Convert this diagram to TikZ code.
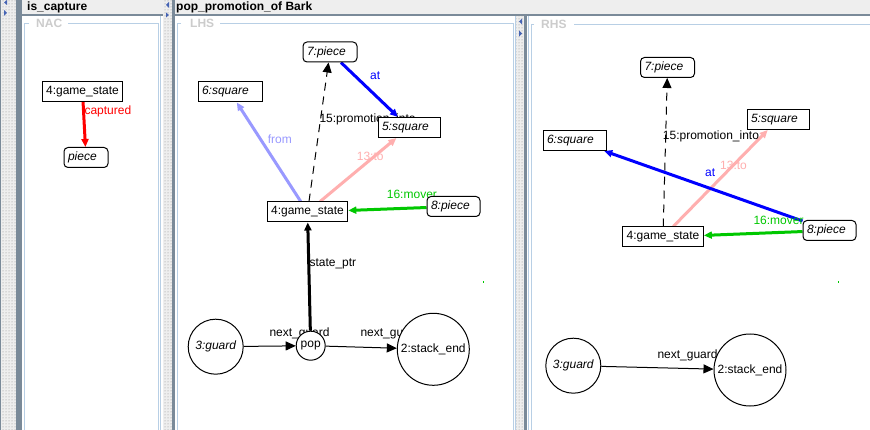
\documentclass[tikz,border=0pt]{standalone}
\usepackage{fontspec}
\setmainfont{Liberation Sans}
\usetikzlibrary{arrows.meta,patterns}

\definecolor{chromebg}{RGB}{238,238,238}
\definecolor{steel}{RGB}{122,138,153}
\definecolor{paneline}{RGB}{184,207,229}
\definecolor{titlegray}{RGB}{204,204,204}
\definecolor{dotgray}{RGB}{140,140,140}
\definecolor{splitblue}{RGB}{70,100,180}
\definecolor{edgegreen}{RGB}{0,200,0}
\definecolor{fromblue}{RGB}{153,153,255}
\definecolor{topink}{RGB}{255,175,175}

\newcommand{\guifont}{\fontsize{12}{14}\selectfont}

\pgfdeclarelayer{chrome}
\pgfdeclarelayer{links}
\pgfsetlayers{chrome,links,main}

\tikzset{
  box/.style={draw, fill=white, line width=1pt, inner xsep=4pt, inner ysep=0pt,
    minimum height=20pt, font=\guifont},
  sbox/.style={box, font=\guifont\itshape, text width=#1, align=left},
  ibox/.style={sbox=#1, rounded corners=4pt},
  circ/.style={draw, fill=white, circle, line width=1pt, inner sep=0pt,
    minimum size=#1, font=\guifont},
  lbl/.style={font=\guifont, inner sep=0pt, anchor=base west},
  paneltitle/.style={font=\guifont\bfseries, text=titlegray, inner sep=0pt, anchor=base west},
  headtitle/.style={font=\guifont\bfseries, inner sep=0pt, anchor=base west},
  thinlink/.style={line width=1pt, -{Triangle[length=10pt,width=9pt]}},
  thicklink/.style={line width=3pt, -{Triangle[length=8pt,width=7pt]}},
  dashlink/.style={thinlink, dash pattern=on 8pt off 6pt},
  dotted strip/.style={fill=chromebg, postaction={pattern=dots, pattern color=dotgray}},
}

\begin{document}
\begin{tikzpicture}[x=1pt,y=-1pt]
\useasboundingbox (0,0) rectangle (870,430);

% ---------- nodes ----------
% NAC
\node[box] (nac-gs) at (82.5,91.5) {4:game\_state};
\node[ibox=36pt] (nac-pc) at (86,157.5) {piece};

% LHS
\node[ibox=46pt] (l-p7) at (330,52) {7:piece};
\node[sbox=56pt] (l-s6) at (230,92) {6:square};
\node[sbox=54pt] (l-s5) at (409,127.5) {5:square};
\node[box] (l-gs) at (307.5,212) {4:game\_state};
\node[ibox=45pt] (l-p8) at (453.5,206.5) {8:piece};
\node[circ=55pt, font=\guifont\itshape] (l-g3) at (215.7,346.7) {3:guard};
\node[circ=29pt] (l-pop) at (310.7,345.7) {pop};
\node[circ=72pt] (l-end) at (433.3,349.3) {2:stack\_end};

% RHS
\node[ibox=46pt] (r-p7) at (667.5,67.5) {7:piece};
\node[sbox=54pt] (r-s5) at (778,119.5) {5:square};
\node[sbox=55pt] (r-s6) at (574.5,140.5) {6:square};
\node[box] (r-gs) at (663,237) {4:game\_state};
\node[ibox=45pt] (r-p8) at (829.5,230.5) {8:piece};
\node[circ=55pt, font=\guifont\itshape] (r-g3) at (573.3,365.7) {3:guard};
\node[circ=72pt] (r-end) at (750,370) {2:stack\_end};

% ---------- edges and their labels ----------
\begin{pgfonlayer}{links}
  % NAC
  \draw[thicklink, red] (nac-gs) -- (nac-pc);
  \node[lbl, text=red] (lab-captured) at (84.3,115) {captured};

  % LHS
  \draw[thicklink, fromblue] (l-gs) -- (l-s6);
  \draw[thicklink, topink] (l-gs) -- (l-s5);
  \draw[dashlink] (l-gs) -- (l-p7);
  \draw[thicklink, blue] (l-p7) -- (l-s5);
  \draw[thicklink, edgegreen] (l-p8) -- (l-gs);
  \draw[thicklink] (l-pop) -- (l-gs);
  \draw[thinlink] (l-g3) -- (l-pop);
  \draw[thinlink] (l-pop) -- (l-end);
  \node[lbl, text=blue] (lab-l-at) at (370,80) {at};
  \node[lbl, text=fromblue] (lab-l-from) at (267.7,143.5) {from};
  \node[lbl] (lab-l-promo) at (319.3,123) {15:promotion\_into};
  \node[lbl, text=topink] (lab-l-to) at (356.7,160.5) {13:to};
  \node[lbl, text=edgegreen] (lab-l-mover) at (386.7,199) {16:mover};
  \node[lbl] (lab-l-state) at (309.3,267) {state\_ptr};
  \node[lbl] (lab-l-next1) at (269.3,337) {next\_guard};
  \node[lbl] (lab-l-next2) at (360.3,337) {next\_guard};

  % RHS
  \draw[dashlink] (r-gs) -- (r-p7);
  \draw[thicklink, topink] (r-gs) -- (r-s5);
  \draw[thicklink, blue] (r-p8) -- (r-s6);
  \draw[thicklink, edgegreen] (r-p8) -- (r-gs);
  \draw[thinlink] (r-g3) -- (r-end);
  \node[lbl] (lab-r-promo) at (662.7,140) {15:promotion\_into};
  \node[lbl, text=topink] (lab-r-to) at (720,169.5) {13:to};
  \node[lbl, text=blue] (lab-r-at) at (705,177) {at};
  \node[lbl, text=edgegreen] (lab-r-mover) at (753.3,224.5) {16:mover};
  \node[lbl] (lab-r-next) at (657.3,358) {next\_guard};

  % stray green marks
  \fill[edgegreen] (482.5,281.5) rectangle +(1.5,1.5);
  \fill[edgegreen] (837.5,281.5) rectangle +(1.5,1.5);
\end{pgfonlayer}

% ---------- window chrome ----------
\begin{pgfonlayer}{chrome}
  \fill[white] (0,0) rectangle (870,430);
  % tab headers
  \fill[chromebg] (22,0) rectangle (163,14);
  \fill[chromebg] (175,0) rectangle (870,14);
  \fill[steel] (22,14) rectangle (163,16);
  \fill[steel] (175,14) rectangle (870,16);
  \node[headtitle] (head-nac) at (27,10.5) {is\_capture};
  \node[headtitle] (head-rule) at (176,10.5) {pop\_promotion\_of Bark};

  % split bars
  \fill[dotted strip] (1,0) rectangle (16,430);
  \draw[steel, line width=1pt] (0.5,0) -- (0.5,430);
  \fill[steel] (16,0) rectangle (22,430);
  \fill[dotted strip] (163,0) rectangle (172,430);
  \fill[steel] (172,0) rectangle (175,430);
  \fill[dotted strip] (516,16) rectangle (524,430);
  \fill[steel] (524,14) rectangle (527,430);

  % split bar arrows
  \fill[splitblue] (7,0) -- (4,2.5) -- (7,5) -- cycle;
  \fill[splitblue] (4,10) -- (7,13) -- (4,16) -- cycle;
  \fill[splitblue] (169,2) -- (166,5) -- (169,8) -- cycle;
  \fill[splitblue] (166,12.5) -- (169,15) -- (166,17.5) -- cycle;
  \fill[splitblue] (522,18.5) -- (519,21.5) -- (522,24.5) -- cycle;
  \fill[splitblue] (519,30.5) -- (522,33.5) -- (519,36.5) -- cycle;

  % titled pane borders
  \begin{scope}[paneline, line width=1pt]
    \draw (29,24) -- (24.5,24) -- (24.5,430);
    \draw (68,24) -- (158,24) -- (158,430);
    \draw (160.5,16) -- (160.5,430);
    \draw (181,24) -- (177.5,24) -- (177.5,430);
    \draw (220,24) -- (513,24) -- (513,430);
    \draw (515.5,16) -- (515.5,430);
    \draw (528.5,16) -- (528.5,430);
    \draw (534,25) -- (531,25) -- (531,430);
    \draw (574,25) -- (870,25);
  \end{scope}
  \node[paneltitle] (title-nac) at (36,28) {NAC};
  \node[paneltitle] (title-lhs) at (190,28) {LHS};
  \node[paneltitle] (title-rhs) at (541,29) {RHS};
\end{pgfonlayer}
\end{tikzpicture}
\end{document}
